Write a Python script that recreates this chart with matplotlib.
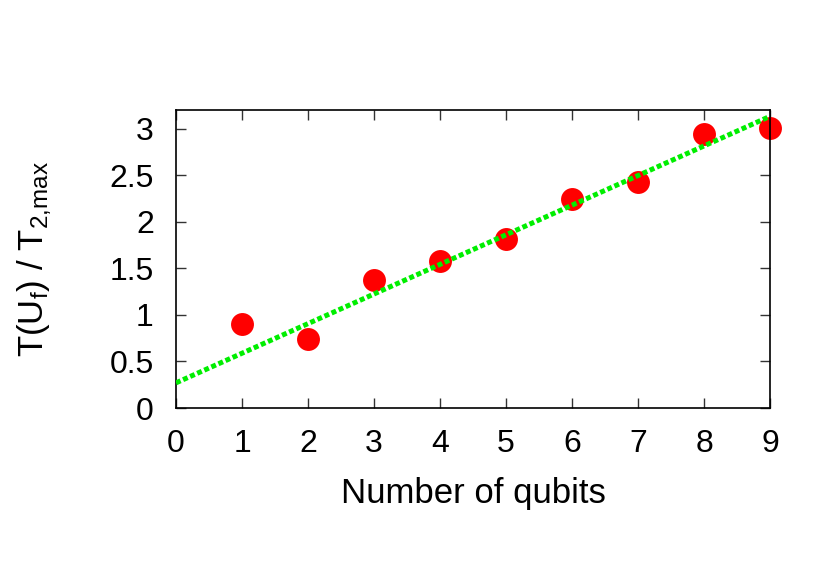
import matplotlib
matplotlib.use("Agg")
import matplotlib.pyplot as plt
import numpy as np

# data
qubits = [1, 2, 3, 4, 5, 6, 7, 8, 9]
ratio = [0.90, 0.74, 1.37, 1.58, 1.81, 2.24, 2.43, 2.94, 3.01]

# linear fit shown as dotted line
fit_slope = 0.318
fit_intercept = 0.27

plt.rcParams['font.family'] = ['Liberation Sans', 'DejaVu Sans']
plt.rcParams['mathtext.fontset'] = 'custom'
plt.rcParams['mathtext.rm'] = 'Liberation Sans'
plt.rcParams['mathtext.it'] = 'Liberation Sans'


def main():
    fig = plt.figure(figsize=(8.3, 5.81), dpi=100)
    ax = fig.add_axes([176/830, 1 - 408/581, (770-176)/830, (408-110)/581])

    xf = np.array([0, 9])
    ax.plot(xf, fit_intercept + fit_slope * xf, color='#00ee00', lw=3.6,
            linestyle=(0, (1.0, 0.55)), dash_capstyle='butt', zorder=3)
    ax.plot(qubits, ratio, 'o', color='#ff0000', ms=16.5, mec='none', zorder=2,
            clip_on=False)

    ax.set_xlim(0, 9)
    ax.set_ylim(0, 3.2)
    ax.set_xticks(range(10))
    ax.set_yticks([0, 0.5, 1, 1.5, 2, 2.5, 3])
    ax.set_yticklabels(['0', '0.5', '1', '1.5', '2', '2.5', '3'])
    ax.tick_params(direction='in', length=7, width=1, top=True, right=True,
                   labelsize=23, color='#333333')
    ax.tick_params(axis='x', pad=15)
    ax.tick_params(axis='y', pad=16)
    for s in ax.spines.values():
        s.set_linewidth(1.2)

    ax.set_xlabel('Number of qubits', fontsize=25, labelpad=13)
    ax.set_ylabel(r'$\mathregular{T(U_f)\ /\ T_{2{,}max}}$', fontsize=25, labelpad=40)

    fig.savefig('out.png', dpi=100)


if __name__ == "__main__":
    main()
